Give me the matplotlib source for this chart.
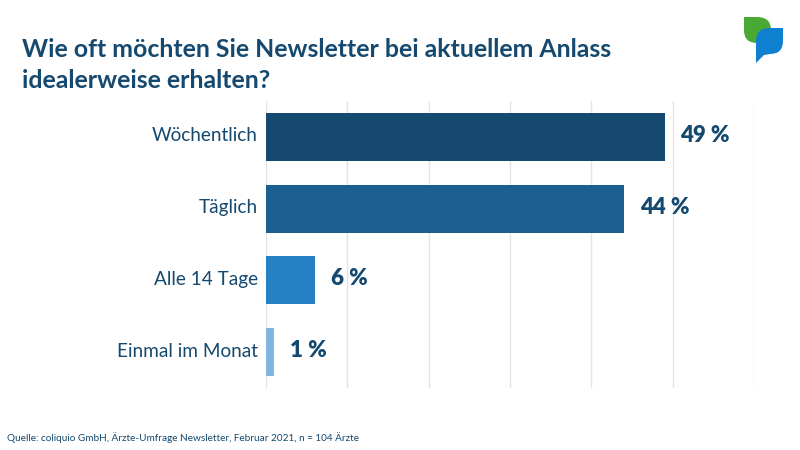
import matplotlib
matplotlib.use('Agg')
import matplotlib.pyplot as plt
from matplotlib.path import Path
from matplotlib.patches import PathPatch
from matplotlib.transforms import ScaledTranslation

categories = ['Wöchentlich', 'Täglich', 'Alle 14 Tage', 'Einmal im Monat']
values = [49, 44, 6, 1]
bar_colors = ['#15496f', '#1b5e90', '#2581c4', '#7fb5e0']
ticks = [0, 10, 20, 30, 40, 50, 60]

title = 'Wie oft möchten Sie Newsletter bei aktuellem Anlass\nidealerweise erhalten?'
source = 'Quelle: coliquio GmbH, Ärzte-Umfrage Newsletter, Februar 2021, n = 104 Ärzte'

DARK = '#15496f'
plt.rcParams['font.family'] = ['Lato', 'DejaVu Sans']

W, H = 800, 450
fig = plt.figure(figsize=(8, 4.5), dpi=100, facecolor='white')
ax = fig.add_axes([266 / W, 1 - 388 / H, (754 - 266) / W, (388 - 101) / H])

ax.barh(categories, values, height=0.67, color=bar_colors, zorder=3)
ax.set_xlim(0, 60)
ax.set_ylim(3.5, -0.5)
ax.set_xticks(ticks)
ax.xaxis.grid(True, color='#e4e4e4', lw=1)
ax.set_axisbelow(True)
ax.tick_params(axis='both', length=0)
ax.tick_params(axis='x', labelbottom=False)
ax.tick_params(axis='y', labelsize=13.7, labelcolor=DARK, pad=6)
for s in ax.spines.values():
    s.set_visible(False)

# labels sit a little above the bar centres in the original
shift = ScaledTranslation(0, 2.5 / 100, fig.dpi_scale_trans)
for lab in ax.get_yticklabels():
    lab.set_transform(lab.get_transform() + shift)

for i, v in enumerate(values):
    ax.annotate(f'{v} %', (v, i), xytext=(11.5, 1), textcoords='offset points',
                va='center', ha='left', fontsize=16, fontweight='heavy', color=DARK)

fig.text(22 / W, 1 - 65 / H, title, fontsize=17.9, fontweight='bold', color=DARK,
         va='center', ha='left', linespacing=1.47)
fig.text(7 / W, 1 - 438 / H, source, fontsize=7.2, color=DARK, va='center', ha='left')


# logo, in pixel coordinates of the figure
def to_fig(pts):
    return [(x / W, 1 - y / H) for x, y in pts]


green = [(744, 17), (757, 17), (771, 17), (771, 30), (771, 43), (757, 43), (744, 43), (744, 30), (744, 17)]
g_codes = [Path.MOVETO, Path.LINETO, Path.CURVE3, Path.CURVE3, Path.LINETO, Path.LINETO,
           Path.CURVE3, Path.CURVE3, Path.CLOSEPOLY]
blue = [(783, 28), (783, 41), (783, 54), (770, 54), (764, 55), (756, 63), (756, 42), (756, 28), (769, 28), (783, 28)]
b_codes = [Path.MOVETO, Path.LINETO, Path.CURVE3, Path.CURVE3, Path.LINETO, Path.LINETO, Path.LINETO,
           Path.CURVE3, Path.CURVE3, Path.CLOSEPOLY]
fig.add_artist(PathPatch(Path(to_fig(green), g_codes), facecolor='#4aa834', edgecolor='none',
                         transform=fig.transFigure))
fig.add_artist(PathPatch(Path(to_fig(blue), b_codes), facecolor='#0f7fd0', edgecolor='none',
                         transform=fig.transFigure))

fig.savefig('out.png', dpi=100)
